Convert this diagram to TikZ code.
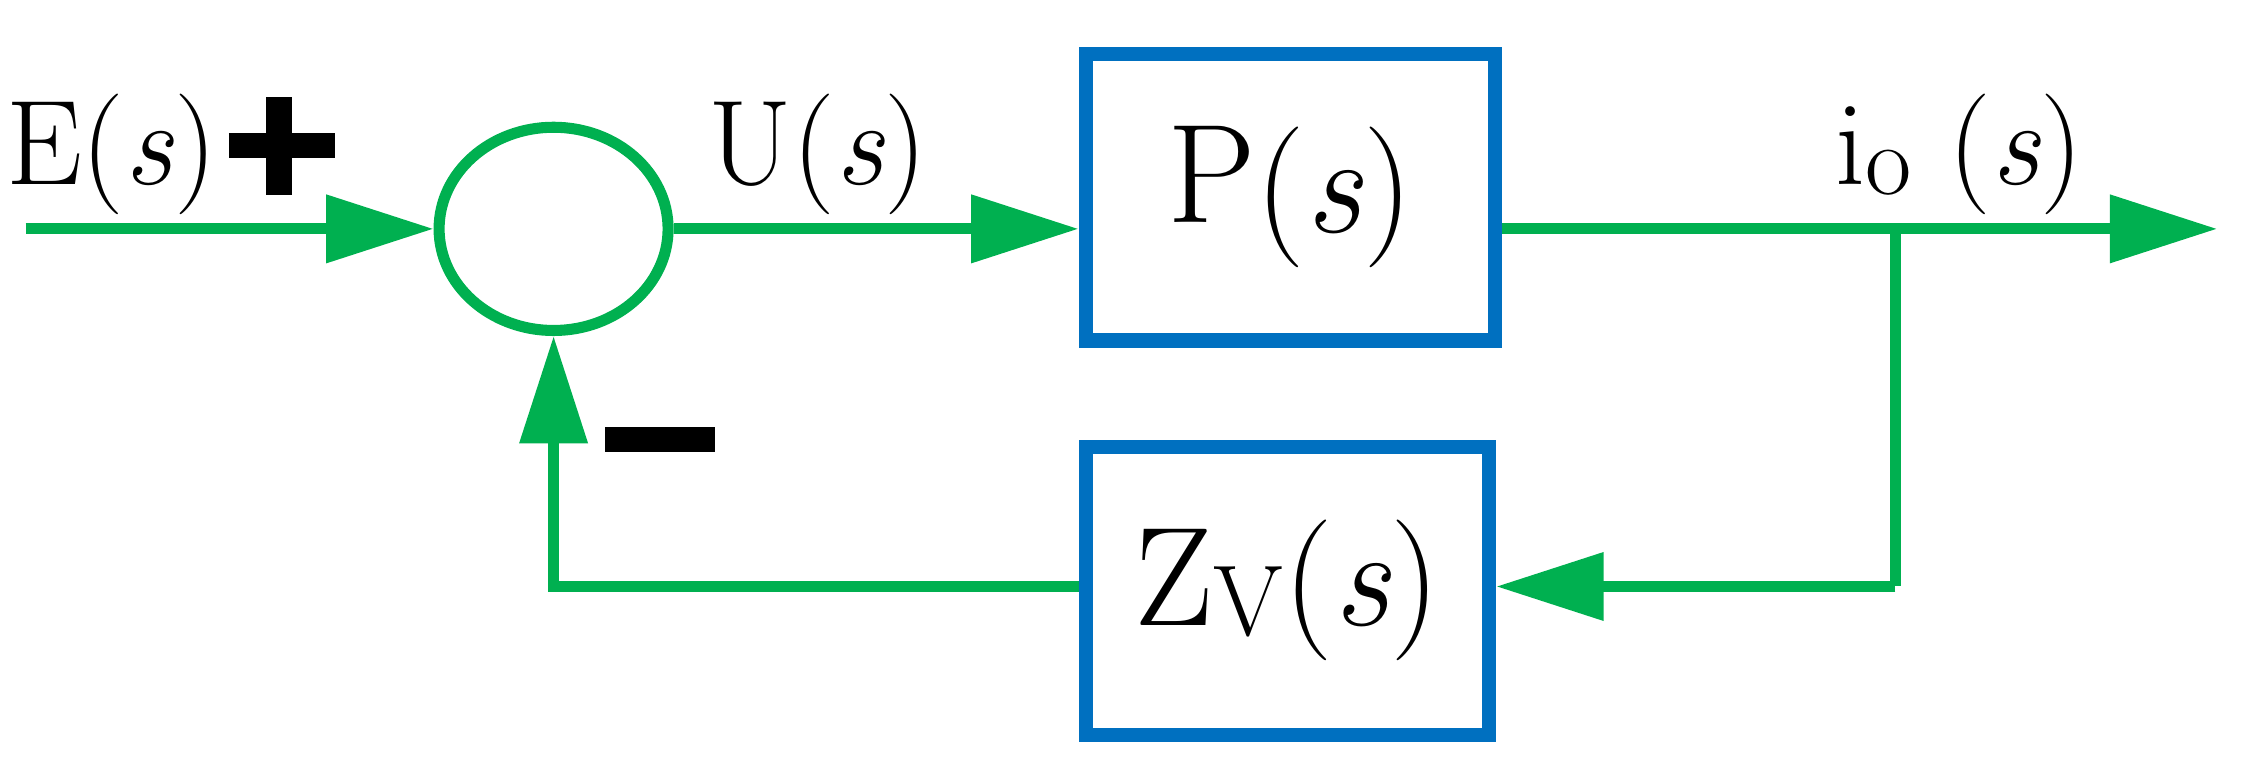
\documentclass[tikz,border=0pt]{standalone}
\usetikzlibrary{arrows.meta,shapes.geometric}
\definecolor{lg}{HTML}{00B050}
\definecolor{bb}{HTML}{0070C0}
\begin{document}
\begin{tikzpicture}[x=0.01cm,y=-0.01cm,
  sig/.style={draw=lg,line width=2.2pt,-{Triangle[length=7.5mm,width=4.6mm]}},
  wire/.style={draw=lg,line width=2.2pt},
  blk/.style={draw=bb,line width=2.8pt,minimum width=2.9cm,minimum height=2cm,font=\fontsize{28}{30}\selectfont},
  lbl/.style={font=\fontsize{24}{26}\selectfont}]
\useasboundingbox (0,0) rectangle (1568,543);
\node[blk,minimum width=2.86cm] (P) at (902,138) {P\raisebox{-2pt}{(\textit{s})}};
\node[blk,minimum width=2.82cm,minimum height=2.01cm] (Z) at (900,413) {Z\raisebox{-2pt}{\fontsize{20}{22}\selectfont V}(\textit{s})};
\node[ellipse,draw=lg,line width=2.2pt,minimum width=1.6cm,minimum height=1.42cm,inner sep=0] (S) at (387,160) {};
\coordinate (in) at (18,160);
\coordinate (out) at (1550,160);
\coordinate (br) at (1325,160);
\coordinate (bd) at (1325,410);
\coordinate (fb) at (387,410);
\draw[sig] (in) -- (S.west);
\draw[sig] (S.east) -- (S.east -| P.west);
\draw[sig] (S.east -| P.east) -- (out);
\draw[wire] (br) -- (bd);
\draw[sig] (bd) -- (bd -| Z.east);
\draw[sig] (bd -| Z.west) -- (fb) -- (S.south);
\node[lbl] (E) at (78,108) {E(\textit{s})};
\node[lbl] (U) at (572,108) {U(\textit{s})};
\node[lbl] (I) at (1370,108) {i\raisebox{-2pt}{\fontsize{20}{22}\selectfont o} (\textit{s})};
\draw[line width=5pt] (160,102) -- (234,102) (195,68) -- (195,136);
\draw[line width=5pt] (423,307) -- (500,307);
\end{tikzpicture}
\end{document}
